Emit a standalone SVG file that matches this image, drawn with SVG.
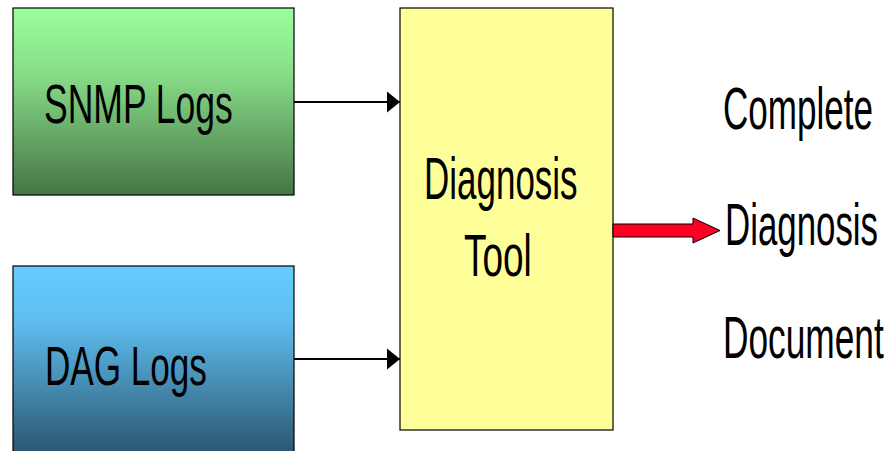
<svg xmlns="http://www.w3.org/2000/svg" width="890" height="451" viewBox="0 0 890 451">
  <style>
    .box { stroke: #000; stroke-width: 1.2; }
    .lbl { font-family: "Liberation Sans", Arial, sans-serif; fill: #000; }
    .conn { stroke: #000; stroke-width: 2; fill: none; }
  </style>
  <defs>
    <linearGradient id="gGreen" x1="0" y1="0" x2="0" y2="1">
      <stop offset="0" stop-color="#99FF99"/>
      <stop offset="0.35" stop-color="#88DD88"/>
      <stop offset="1" stop-color="#457545"/>
    </linearGradient>
    <linearGradient id="gBlue" x1="0" y1="0" x2="0" y2="1">
      <stop offset="0" stop-color="#66CCFF"/>
      <stop offset="0.3" stop-color="#5EBDEE"/>
      <stop offset="1" stop-color="#2C5670"/>
    </linearGradient>
    <marker id="arrow" markerUnits="userSpaceOnUse" markerWidth="14" markerHeight="22" refX="13" refY="11" orient="auto">
      <path d="M0,0.5 L13,11 L0,21.5 z" fill="#000"/>
    </marker>
  </defs>

  <g id="snmp">
    <rect class="box" x="13" y="8" width="281" height="187" fill="url(#gGreen)"/>
    <text class="lbl" transform="translate(44,123) scale(0.64,1)" x="0" y="0" font-size="55" textLength="295" lengthAdjust="spacingAndGlyphs">SNMP Logs</text>
  </g>

  <g id="dag">
    <rect class="box" x="13" y="266" width="281" height="187" fill="url(#gBlue)"/>
    <text class="lbl" transform="translate(45,385) scale(0.64,1)" x="0" y="0" font-size="55" textLength="253" lengthAdjust="spacingAndGlyphs">DAG Logs</text>
  </g>

  <g id="tool">
    <rect class="box" x="400" y="8" width="213" height="422" fill="#FFFF99"/>
    <text class="lbl" transform="translate(424,199) scale(0.6,1)" x="0" y="0" font-size="59" textLength="256" lengthAdjust="spacingAndGlyphs">Diagnosis</text>
    <text class="lbl" transform="translate(464,276) scale(0.6,1)" x="0" y="0" font-size="59" textLength="113" lengthAdjust="spacingAndGlyphs">Tool</text>
  </g>

  <g id="output">
    <text class="lbl" transform="translate(723,129) scale(0.6,1)" x="0" y="0" font-size="59" textLength="250" lengthAdjust="spacingAndGlyphs">Complete</text>
    <text class="lbl" transform="translate(725,245) scale(0.6,1)" x="0" y="0" font-size="59" textLength="255" lengthAdjust="spacingAndGlyphs">Diagnosis</text>
    <text class="lbl" transform="translate(723,358) scale(0.6,1)" x="0" y="0" font-size="59" textLength="268" lengthAdjust="spacingAndGlyphs">Document</text>
  </g>

  <g id="connectors">
    <line class="conn" x1="294" y1="102" x2="400" y2="102" marker-end="url(#arrow)"/>
    <line class="conn" x1="294" y1="359" x2="400" y2="359" marker-end="url(#arrow)"/>
    <polygon points="613,224 693,224 693,218 720,230.5 693,243 693,237 613,237" fill="#FF0022" stroke="#000" stroke-width="1"/>
  </g>
</svg>
